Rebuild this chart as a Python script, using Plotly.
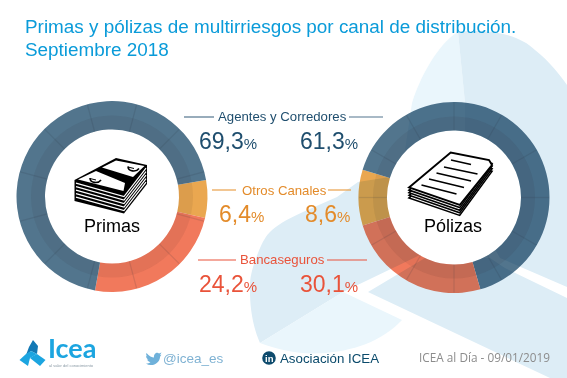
import re
import numpy as np
import plotly.graph_objects as go

W, H = 567, 378

# Printed figures
channels = ["Agentes y Corredores", "Otros Canales", "Bancaseguros"]
primas_labels = ["69,3", "6,4", "24,2"]
polizas_labels = ["61,3", "8,6", "30,1"]

# Slice sizes as drawn, clockwise from the first slice.
# The Pólizas ring in the picture does not follow its printed figures, so its arcs are read off the ring.
slice_names_primas = ["Otros Canales", "Bancaseguros", "Agentes y Corredores"]
primas_arcs = [6.4, 24.2, 69.3]
slice_names_polizas = ["Otros Canales", "Agentes y Corredores", "Bancaseguros"]
polizas_arcs = [9.4, 65.8, 24.7]

BLUE, ORANGE, RED = "#52758D", "#EAA750", "#F1795C"
TXT_BLUE, TXT_ORANGE, TXT_RED = "#1F4E6E", "#E38B2A", "#E9533A"
BG_DARK, BG_LIGHT = "#DDEDF6", "#EAF6FC"
FONT = "Liberation Sans"


def X(x):
    return x / W


def Y(y):
    return 1 - y / H


def path_px(s):
    out, is_x = [], True
    for tok in re.findall(r"[A-Za-z]|-?\d+\.?\d*", s):
        if tok.isalpha():
            out.append(tok)
            is_x = True
        else:
            v = float(tok)
            out.append(f"{X(v):.5f}" if is_x else f"{Y(v):.5f}")
            is_x = not is_x
    return " ".join(out)


shapes = []


def add_path(s, fill=None, line=None, width=0, layer="above"):
    shapes.append(dict(type="path", xref="paper", yref="paper", path=path_px(s), layer=layer,
                       fillcolor=fill if fill else "rgba(0,0,0,0)",
                       line=dict(color=line if line else "rgba(0,0,0,0)", width=width)))


def add_line(x0, y0, x1, y1, color, width=1, layer="above"):
    shapes.append(dict(type="line", xref="paper", yref="paper", x0=X(x0), y0=Y(y0), x1=X(x1), y1=Y(y1),
                       layer=layer, line=dict(color=color, width=width)))


def add_circle(cx, cy, r, fill, layer="above"):
    shapes.append(dict(type="circle", xref="paper", yref="paper", x0=X(cx - r), x1=X(cx + r),
                       y0=Y(cy + r), y1=Y(cy - r), layer=layer, fillcolor=fill, line=dict(width=0)))


# Background planes
add_path("M458 32 C443 40 422 70 412 103 L405 150 L465 175 L465 103 Z", BG_LIGHT, layer="below")
add_path("M458 32 C490 28 520 35 535 50 C550 62 560 75 567 85 L567 287 L500 258 L465 197 L465 103 Z", BG_DARK, layer="below")
add_path("M390 177 L358 182 L337 197 L303 212 C285 220 276 226 270 232 C264 238 261 246 258 253 "
         "C252 268 249 280 250 292 C250 305 252 325 260 343 L343 292 L420 255 L445 190 Z", BG_DARK, layer="below")
add_path("M368 292 L425 258 L490 258 L505 268 L567 298 L567 378 L550 378 Z", BG_DARK, layer="below")
add_path("M260 343 L343 292 L402 320 C385 338 360 350 325 353 C300 355 280 350 260 343 Z", BG_LIGHT, layer="below")

# Ring centres and white hubs
L_C, R_C = (112, 196.5), (454, 197.5)
R_OUT, R_MID, R_IN = 95.5, 81, 67
add_circle(*L_C, R_IN, "white", layer="below")
add_circle(*R_C, R_IN, "white", layer="below")


def domain(c, r):
    return dict(x=[X(c[0] - r), X(c[0] + r)], y=[Y(c[1] + r), Y(c[1] - r)])


def ring(c, values, names, rotation):
    colour = {"Otros Canales": ORANGE, "Bancaseguros": RED, "Agentes y Corredores": BLUE}
    return [
        go.Pie(values=values, labels=names, sort=False, direction="clockwise", rotation=rotation,
               hole=R_IN / R_OUT, domain=domain(c, R_OUT), textinfo="none", showlegend=False,
               marker=dict(colors=[colour[n] for n in names], line=dict(width=0))),
        go.Pie(values=[1], labels=["anillo"], sort=False, hole=R_IN / R_MID, domain=domain(c, R_MID),
               textinfo="none", showlegend=False, marker=dict(colors=["rgba(40,30,30,0.07)"], line=dict(width=0))),
    ]


traces = ring(L_C, primas_arcs, slice_names_primas, 80) + ring(R_C, polizas_arcs, slice_names_polizas, 253)

# Radial segment dividers
for c, off in ((L_C, 15), (R_C, 0)):
    for a in np.radians(np.arange(off, 360 + off, 30)):
        add_line(c[0] + R_IN * np.sin(a), c[1] - R_IN * np.cos(a),
                 c[0] + (R_OUT - 0.5) * np.sin(a), c[1] - (R_OUT - 0.5) * np.cos(a),
                 "rgba(40,50,65,0.14)", 1.2)

# Leader lines
for seg, col in (((184, 117, 214, 117), BLUE), ((349, 117, 383, 117), BLUE),
                 ((212, 190, 236, 190), "#E9A04A"), ((328, 190, 351, 190), "#E9A04A"),
                 ((198, 260, 236, 260), TXT_RED), ((327, 260, 367, 260), TXT_RED)):
    add_line(*seg, col, 1.2)

# Banknote stack icon
Lp, Fp, Rp, Bp = (74.5, 180), (124, 193.5), (147, 165), (116, 158)
add_path(f"M{Lp[0]} {Lp[1]} L{Bp[0]} {Bp[1]} L{Rp[0]} {Rp[1]} L{Rp[0]} {Rp[1]+19} L{Fp[0]} {Fp[1]+20} L{Lp[0]} {Lp[1]+21} Z", "black")
for k in range(1, 6):
    d = k * 3.5 - 0.4
    add_path(f"M{Lp[0]+1.5} {Lp[1]+d} L{Fp[0]} {Fp[1]+d} L{Rp[0]-1} {Rp[1]+d}", None, "white", 1.2)
add_path("M78 179.5 L96 171 L125 183 L123.5 191 Z", "white")
add_path("M102 167.5 L116 160.5 L144.5 166 L133 177 Z", "white")
for cx, cy in ((95, 179), (133, 167.5)):
    add_path(f"M{cx-5} {cy-1} C{cx-5} {cy+4} {cx+3} {cy+5} {cx+6} {cy+1}", None, "black", 1.6)
    add_line(cx - 5, cy - 0.5, cx + 1, cy + 1, "black", 1)

# Document stack icon
Bd, Rd, Fd, Ld = (450.7, 152.5), (492, 161), (459.7, 205), (409, 187.5)
for k in range(4, 0, -1):
    d = k * 2.6
    add_path(f"M{Ld[0]} {Ld[1]+d} L{Bd[0]} {Bd[1]+d} L{Rd[0]} {Rd[1]+d} L{Fd[0]} {Fd[1]+d} Z", "white", "black", 1.6)
add_path(f"M{Ld[0]} {Ld[1]} L{Bd[0]} {Bd[1]} L{Rd[0]-3} {Rd[1]-1} L{Rd[0]} {Rd[1]+4} L{Fd[0]} {Fd[1]} Z", "white", "black", 1.9)
for x0, y0, x1, y1 in ((451, 160, 471, 164.5), (444, 167, 477.5, 174), (436.5, 173, 471, 181),
                       (429, 179, 464, 187.5), (421.5, 185, 456.5, 194)):
    add_line(x0, y0, x1, y1, "black", 1.7)

# Footer marks: logo blades, bird, LinkedIn badge
LOGO, LOGO_DK = "#1CA5E0", "#1279B5"
add_path("M33 340 L38 346 L37 354 L31 351 L26 355 L29 347 Z", LOGO_DK)
add_path("M19.5 360 L26 354 L31 351 L37 354 L30 358 L28 366 Z", LOGO)
add_path("M37 354 L45.5 360 L40 366 L30 358 L33 356 Z", LOGO)
add_path("M146.5 353 C149 356 152 357.5 154 357.5 C153.5 354 157 351.5 159 353.5 L161.5 352.5 L160 355 L161.5 354.8 "
         "C160.5 356 160 356.5 160 357.5 C159.5 362 155 365.5 150.5 365 C149 365 147.5 364.5 146 363.5 "
         "C148 363.5 149.5 363 150.5 362 C148.5 362 147.5 360.5 147 359.5 L148.5 359.5 C146.5 358.5 146 357 146 356 "
         "L147.5 356.5 C146 355.5 146 354 146.5 353 Z", "#6FB1DA")
add_circle(269, 358, 6.8, "#0E4B6D")

ann = []


def text(x, y, s, size, color, anchor="center", family=FONT):
    ann.append(dict(x=X(x), y=Y(y), xref="paper", yref="paper", text=s, showarrow=False, xanchor=anchor,
                    yanchor="middle", borderpad=0, font=dict(size=size, color=color, family=family)))


def pct(x, y, v, color):
    text(x, y, f'{v}<span style="font-size:15px">%</span>', 23, color, anchor="right")


text(23.5, 26.5, "Primas y pólizas de multirriesgos por canal de distribución.", 18.9, "#0A9BD9", "left")
text(23.5, 49.5, "Septiembre 2018", 18.9, "#0A9BD9", "left")

text(282.5, 116, channels[0], 13.2, TXT_BLUE)
text(284.5, 190, channels[1], 13.2, TXT_ORANGE)
text(282.5, 259.5, channels[2], 13.2, TXT_RED)

pct(258, 141, primas_labels[0], TXT_BLUE)
pct(358.5, 141, polizas_labels[0], TXT_BLUE)
pct(264.5, 214, primas_labels[1], TXT_ORANGE)
pct(350.5, 214, polizas_labels[1], TXT_ORANGE)
pct(257.5, 283.5, primas_labels[2], TXT_RED)
pct(358.5, 283.5, polizas_labels[2], TXT_RED)

text(111.7, 226, "Primas", 18, "black")
text(453, 226, "Pólizas", 18, "black")

text(47, 347, "<b>Icea</b>", 27, LOGO, "left", "Lato")
text(48, 365.5, "al valor del conocimiento", 4, "#8a9aa5", "left")
text(162, 358, "@icea_es", 13.5, "#7FB2D3", "left")
text(269, 358, "<b>in</b>", 9.5, "white")
text(279, 358, "Asociación ICEA", 13.3, "#0A4A6B", "left")
text(418, 357, "ICEA al Día - 09/01/2019", 11.8, "#8C8C8C", "left", "Open Sans")

fig = go.Figure(traces)
fig.update_layout(width=W, height=H, margin=dict(l=0, r=0, t=0, b=0), paper_bgcolor="white",
                  plot_bgcolor="white", showlegend=False, shapes=shapes, annotations=ann, hovermode=False)
fig.write_html("out.html", config=dict(displayModeBar=False),
               post_script="document.body.style.margin='0';document.body.style.overflow='hidden';"
                           "document.querySelectorAll('.pielayer').forEach(function(e){e.style.mixBlendMode='multiply';});")
